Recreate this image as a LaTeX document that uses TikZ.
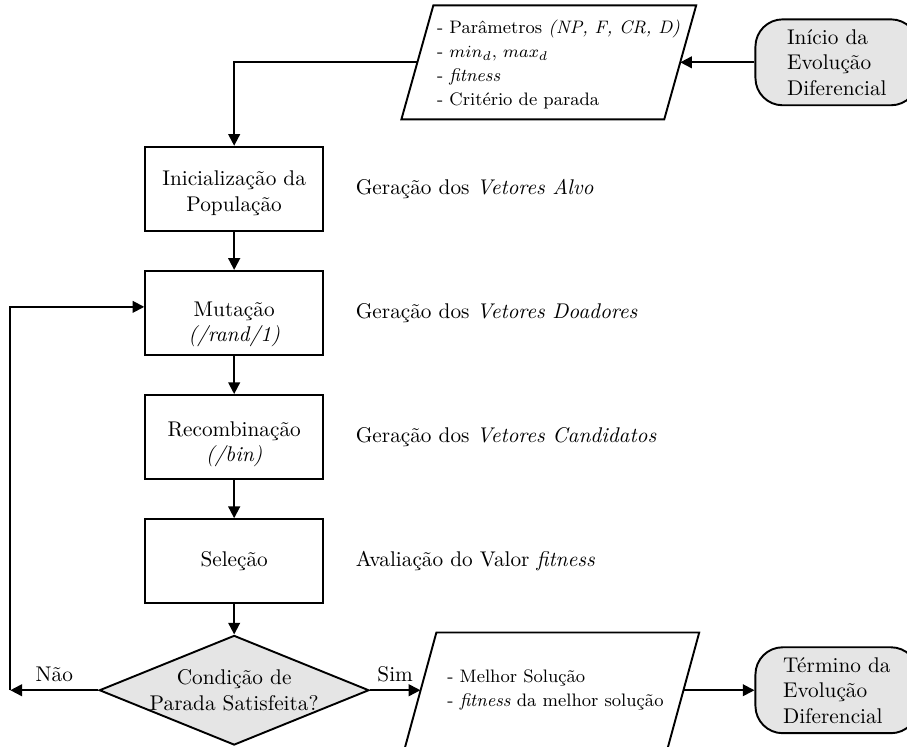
\documentclass[tikz,border=0pt]{standalone}
\usepackage{fontspec}
\usetikzlibrary{shapes.geometric,arrows.meta,positioning,calc}

\begin{document}
\begin{tikzpicture}[
	caixa/.style={draw,line width=0.9pt,minimum width=2.94cm,minimum height=1.39cm,align=center},
	dados/.style={inner sep=0pt,minimum width=4.33cm,minimum height=1.87cm},
	linha/.style={line width=0.9pt},
	textodados/.style={font=\fontsize{8.5}{11.3}\selectfont,align=left,inner sep=0pt},
	terminal/.style={draw,line width=0.9pt,fill=gray!20,rounded corners=0.45cm,minimum width=2.69cm,minimum height=1.42cm,align=left},
	decisao/.style={draw,line width=0.9pt,fill=gray!20,diamond,aspect=2.46,inner sep=0pt,minimum width=4.4cm,minimum height=1.79cm,align=center},
	seta/.style={line width=0.9pt,-{Triangle[length=5.5pt,width=5.5pt]}},
	node distance=0.63cm]

	\clip (0,0) rectangle (14.99,-12.33);

	% coluna principal
	\node[caixa] (init) at (3.87,-3.12) {\rule{0pt}{11pt}Inicialização da\\População};
	\node[caixa,below=of init] (mut) {\rule{0pt}{17.5pt}Mutação\\\textit{(/rand/1)}};
	\node[caixa,below=of mut] (rec) {\rule{0pt}{13.5pt}Recombinação\\\textit{(/bin)}};
	\node[caixa,below=of rec] (sel) {Seleção};
	\node[decisao,below=0.5cm of sel] (cond) {Condição de\\Parada Satisfeita?};

	% descricoes
	\node[right=0.4cm of init] (alvo) {Geração dos \textit{Vetores Alvo}};
	\node[right=0.4cm of mut] (doad) {Geração dos \textit{Vetores Doadores}};
	\node[right=0.4cm of rec] (cand) {Geração dos \textit{Vetores Candidatos}};
	\node[right=0.4cm of sel] (aval) {Avaliação do Valor \textit{fitness}};

	% entrada e saida
	\node[dados] (par1) at (9.07,-1.03) {};
	\draw[linha] ($(par1.north west)+(0.264,0)$) -- ($(par1.north east)+(0.264,0)$) -- ($(par1.south east)+(-0.264,0)$) -- ($(par1.south west)+(-0.264,0)$) -- cycle;
	\node[textodados] (par1txt) at (9.23,-1.06) {- Parâmetros \textit{(NP, F, CR, D)}\\- $min_d$, $max_d$\\- \textit{fitness}\\- Critério de parada};
	\node[terminal] (inicio) at (13.83,-1.03) {Início da\\Evolução\\Diferencial};

	\node[dados,minimum height=1.92cm] (par2) at (9.12,-11.42) {};
	\draw[linha] ($(par2.north west)+(0.264,0)$) -- ($(par2.north east)+(0.264,0)$) -- ($(par2.south east)+(-0.264,0)$) -- ($(par2.south west)+(-0.264,0)$) -- cycle;
	\node[textodados] (par2txt) at (9.18,-11.41) {- Melhor Solução\\- \textit{fitness} da melhor solução};
	\node[terminal] (termino) at (inicio |- cond) {Término da\\Evolução\\Diferencial};

	\coordinate (loop) at ($(cond.west)+(-1.455,0)$);
	\coordinate (loopin) at ($(mut.west)+(0,0.1)$);

	\draw[seta] (inicio.west) -- (par1.east);
	\draw[seta] (par1.west) -| (init.north);
	\draw[seta] (init) -- (mut);
	\draw[seta] (mut) -- (rec);
	\draw[seta] (rec) -- (sel);
	\draw[seta] (sel) -- (cond);
	\draw[seta] (cond.west) -- node[above] {Não} (loop);
	\draw[seta] (loop) |- (loopin);
	\draw[seta] (cond.east) -- node[above] {Sim} (cond.east -| par2.west);
	\draw[seta] (termino.west -| par2.east) -- (termino.west);

\end{tikzpicture}
\end{document}
